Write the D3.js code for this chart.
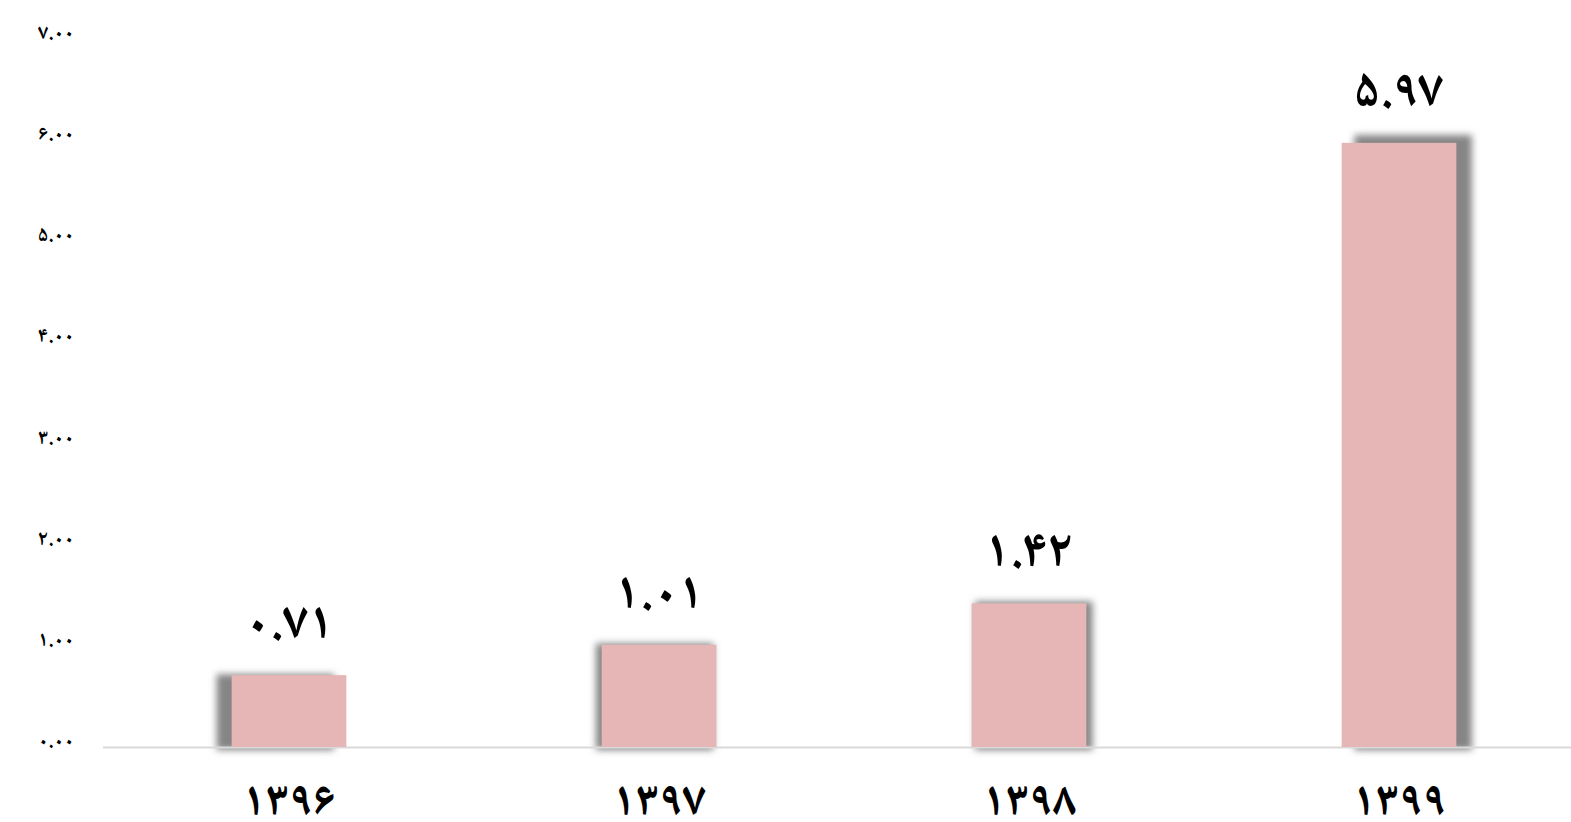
<!DOCTYPE html>
<html><head><meta charset="utf-8">
<script src="https://cdn.jsdelivr.net/npm/d3@7"></script>
<style>
html,body{margin:0;padding:0;background:#fff;overflow:hidden}
text{font-family:"Noto Naskh Arabic","Noto Sans Arabic","DejaVu Sans",sans-serif;font-weight:bold;fill:#000}
</style></head><body>
<svg id="c" width="1571" height="822"></svg>
<script>
const categories = ["۱۳۹۶","۱۳۹۷","۱۳۹۸","۱۳۹۹"];
const values = [0.71, 1.01, 1.42, 5.97];
const valueLabels = ["۰.۷۱","۱.۰۱","۱.۴۲","۵.۹۷"];
const tickValues = [0,1,2,3,4,5,6,7];
const tickLabels = ["۰.۰۰","۱.۰۰","۲.۰۰","۳.۰۰","۴.۰۰","۵.۰۰","۶.۰۰","۷.۰۰"];

const svg = d3.select("#c");
const x = d3.scaleBand().domain(categories).range([104,1584]).paddingInner(0.69).paddingOuter(0.345);
const y = d3.scaleLinear().domain([0,7]).range([747,38.6]);

const defs = svg.append("defs");
defs.append("filter").attr("id","sh").attr("x","-30%").attr("y","-30%").attr("width","160%").attr("height","160%")
  .append("feGaussianBlur").attr("stdDeviation",3.5);

// y axis labels
const yAxis = d3.axisLeft(y).tickValues(tickValues).tickFormat((d,i)=>tickLabels[i]).tickSize(0).tickPadding(0);
const ga = svg.append("g").attr("transform","translate(74,-7)").call(yAxis);
ga.select(".domain").remove();
ga.selectAll("text").style("font-size","21px").attr("fill","#000");

// shadows
const cx = 835, cy = 747, sx = 1.025, sy = 1.013;
svg.append("g").selectAll("rect").data(values).join("rect")
  .attr("x",(d,i)=>cx+(x(categories[i])-cx)*sx)
  .attr("width",x.bandwidth()*sx)
  .attr("y",d=>cy+(y(d)-cy)*sy)
  .attr("height",d=>(y(0)-y(d))*sy+3)
  .attr("fill","#858585").attr("filter","url(#sh)");

// baseline
svg.append("line").attr("x1",103).attr("x2",1571).attr("y1",y(0)+0.5).attr("y2",y(0)+0.5)
  .attr("stroke","#d9d9d9").attr("stroke-width",2);

// bars
svg.append("g").selectAll("rect").data(values).join("rect")
  .attr("x",(d,i)=>x(categories[i]))
  .attr("width",x.bandwidth())
  .attr("y",d=>y(d))
  .attr("height",d=>y(0)-y(d))
  .attr("fill","#e6b5b6");

// value labels
svg.append("g").selectAll("text").data(values).join("text")
  .attr("x",(d,i)=>x(categories[i])+x.bandwidth()/2)
  .attr("y",d=>y(d)-37)
  .attr("text-anchor","middle")
  .style("font-size","52px")
  .text((d,i)=>valueLabels[i]);

// x axis labels
const xAxis = d3.axisBottom(x).tickSize(0).tickPadding(0);
const gx = svg.append("g").attr("transform","translate(0,815)").call(xAxis);
gx.select(".domain").remove();
gx.selectAll("text").style("font-size","48px").attr("fill","#000").attr("dy","0");
</script>
</body></html>
